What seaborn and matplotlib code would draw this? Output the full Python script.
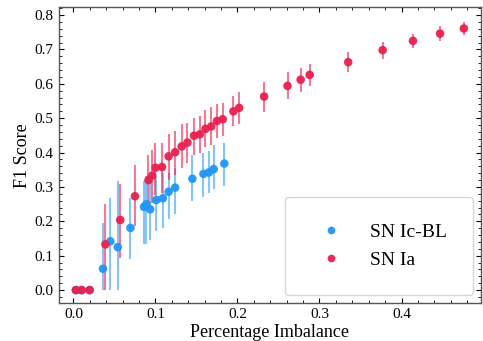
import numpy as np
import pandas as pd
import seaborn as sns
import matplotlib.pyplot as plt

# SN Ic-BL
icbl_x = [0.003, 0.010, 0.020, 0.036, 0.045, 0.054, 0.0695, 0.086, 0.089, 0.0935,
          0.101, 0.109, 0.116, 0.124, 0.145, 0.1585, 0.165, 0.171, 0.184]
icbl_y = [0.0, 0.0, 0.0, 0.062, 0.142, 0.125, 0.181, 0.242, 0.250, 0.235,
          0.262, 0.267, 0.286, 0.298, 0.324, 0.338, 0.342, 0.352, 0.368]
icbl_lo = [0.0, 0.0, 0.0, 0.062, 0.142, 0.125, 0.092, 0.107, 0.117, 0.088,
           0.090, 0.085, 0.078, 0.078, 0.065, 0.068, 0.061, 0.059, 0.064]
icbl_hi = [0.0, 0.0, 0.0, 0.134, 0.125, 0.192, 0.086, 0.075, 0.081, 0.085,
           0.072, 0.075, 0.055, 0.056, 0.068, 0.061, 0.064, 0.069, 0.061]

# SN Ia
ia_x = [0.003, 0.010, 0.0195, 0.039, 0.057, 0.075, 0.0915, 0.096, 0.100, 0.108,
        0.116, 0.124, 0.132, 0.139, 0.147, 0.154, 0.161, 0.168, 0.175, 0.182,
        0.195, 0.202, 0.2325, 0.261, 0.277, 0.288, 0.335, 0.377, 0.414, 0.447, 0.476]
ia_y = [0.0, 0.0, 0.0, 0.133, 0.204, 0.273, 0.320, 0.333, 0.356, 0.358,
        0.389, 0.401, 0.418, 0.429, 0.449, 0.453, 0.469, 0.476, 0.492, 0.497,
        0.520, 0.530, 0.563, 0.594, 0.612, 0.626, 0.663, 0.698, 0.725, 0.746, 0.761]
ia_lo = [0.0, 0.0, 0.0, 0.133, 0.110, 0.088, 0.085, 0.080, 0.078, 0.075,
         0.068, 0.065, 0.063, 0.058, 0.055, 0.054, 0.054, 0.055, 0.050, 0.048,
         0.044, 0.047, 0.046, 0.037, 0.035, 0.033, 0.028, 0.025, 0.021, 0.022, 0.019]
ia_hi = [0.0, 0.0, 0.0, 0.117, 0.105, 0.091, 0.072, 0.075, 0.073, 0.071,
         0.064, 0.063, 0.065, 0.056, 0.052, 0.053, 0.054, 0.056, 0.050, 0.048,
         0.044, 0.047, 0.043, 0.039, 0.035, 0.033, 0.030, 0.025, 0.021, 0.022, 0.020]

blue = '#2196F3'
red = '#E8214F'

df = pd.DataFrame({
    'x': icbl_x + ia_x,
    'y': icbl_y + ia_y,
    'type': ['SN Ic-BL'] * len(icbl_x) + ['SN Ia'] * len(ia_x),
})

plt.rcParams['font.family'] = ['Liberation Serif', 'DejaVu Serif']
plt.rcParams['mathtext.fontset'] = 'stix'
plt.rcParams['xtick.direction'] = 'in'
plt.rcParams['ytick.direction'] = 'in'
plt.rcParams['xtick.top'] = True
plt.rcParams['ytick.right'] = True
plt.rcParams['xtick.minor.visible'] = True
plt.rcParams['ytick.minor.visible'] = True

fig, ax = plt.subplots(figsize=(4.83, 3.41), dpi=100)

# error bars
ax.errorbar(icbl_x, icbl_y, yerr=[icbl_lo, icbl_hi], fmt='none', ecolor=blue,
            elinewidth=1.5, alpha=0.55, zorder=1)
ax.errorbar(ia_x, ia_y, yerr=[ia_lo, ia_hi], fmt='none', ecolor=red,
            elinewidth=1.5, alpha=0.6, zorder=1)

sns.scatterplot(data=df, x='x', y='y', hue='type',
                palette={'SN Ic-BL': blue, 'SN Ia': red},
                s=38, edgecolor='none', alpha=0.95, ax=ax, zorder=3)

ax.set_xlim(-0.018, 0.497)
ax.set_ylim(-0.038, 0.823)
ax.set_xlabel('Percentage Imbalance', fontsize=13, labelpad=2)
ax.set_ylabel('F1 Score', fontsize=13, labelpad=3)
ax.tick_params(labelsize=11)
ax.tick_params(which='major', length=3.5, width=0.8)
ax.tick_params(which='minor', length=2, width=0.6)
for sp in ax.spines.values():
    sp.set_linewidth(1.0)
    sp.set_color('#555555')

leg = ax.legend(loc='lower right', fontsize=14, frameon=True, borderpad=1.35,
                handletextpad=1.0, labelspacing=0.55, markerscale=0.9,
                borderaxespad=0.4, edgecolor='#cccccc')

fig.subplots_adjust(left=0.1215, right=0.996, top=0.979, bottom=0.111)
fig.savefig('out.png', dpi=100)
